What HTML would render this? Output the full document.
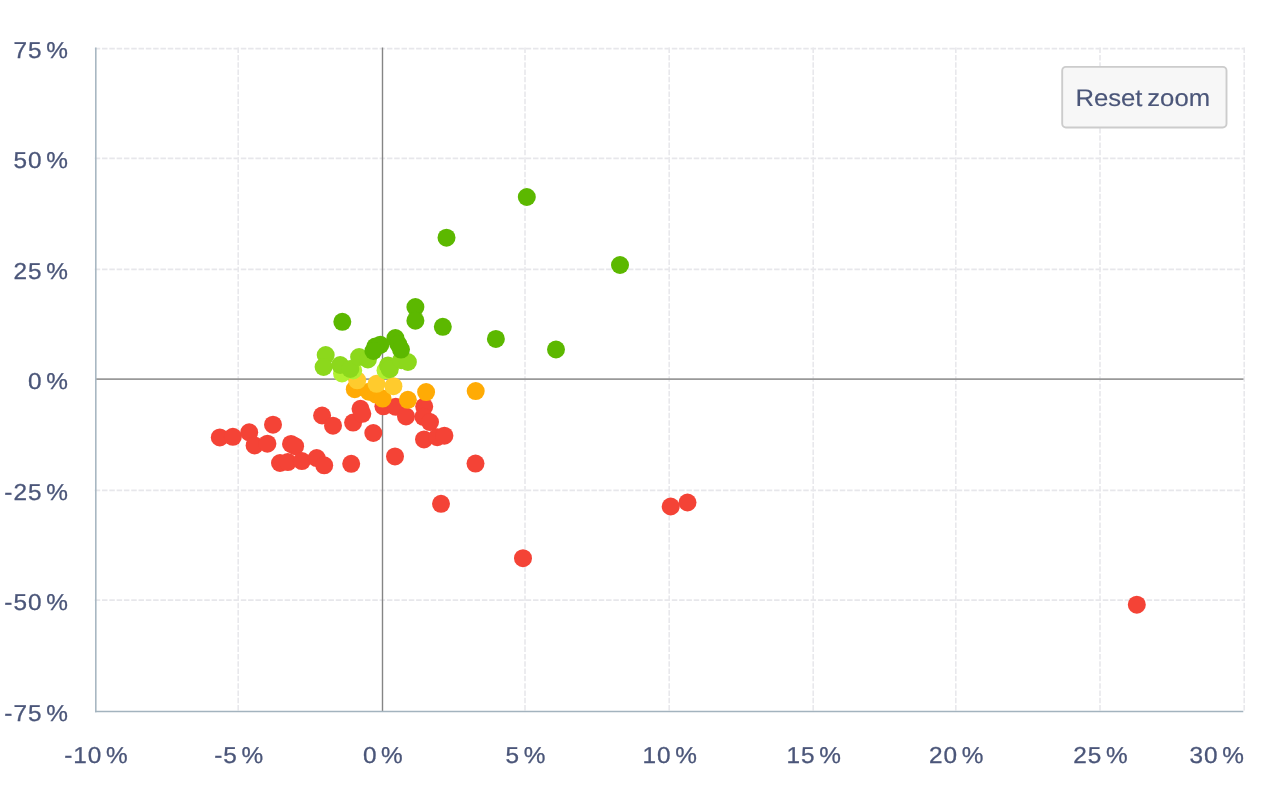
<!DOCTYPE html>
<html lang="en">
<head>
<meta charset="utf-8">
<title>Scatter chart</title>
<style>
html,body{margin:0;padding:0;background:#ffffff;}
body{width:1280px;height:789px;overflow:hidden;}
svg{display:block;will-change:transform;}
text{text-rendering:geometricPrecision;font-family:"Liberation Sans",Arial,Helvetica,sans-serif;fill:#4b5679;stroke:#4b5679;stroke-width:0.28px;}
.lbl{font-size:23px;letter-spacing:0.9px;word-spacing:-3.8px;}
.btn{font-size:24px;word-spacing:-2.2px;stroke-width:0.15px;}
</style>
</head>
<body>
<svg width="1280" height="789" viewBox="0 0 1280 789">
<rect x="0" y="0" width="1280" height="789" fill="#ffffff"/>

<g stroke="#e7e7eb" stroke-width="1.75" stroke-dasharray="5.5 1.805" fill="none">
<path d="M94.7 48.5 H1245"/>
<path d="M94.7 158.4 H1245"/>
<path d="M94.7 269.3 H1245"/>
<path d="M94.7 490.3 H1245"/>
<path d="M94.7 600.2 H1245"/>
</g>
<g stroke="#e8e8ec" stroke-width="1.6" stroke-dasharray="5.5 1.805" fill="none">
<path d="M238.2 47.6 V711"/>
<path d="M525.0 47.6 V711"/>
<path d="M669.2 47.6 V711"/>
<path d="M813.2 47.6 V711"/>
<path d="M955.8 47.6 V711"/>
<path d="M1100.0 47.6 V711"/>
<path d="M1244.2 47.6 V711"/>
</g>
<path d="M95 379.05 H1243.5" stroke="#999999" stroke-width="1.7" fill="none"/>
<path d="M382.5 47.6 V711" stroke="#858585" stroke-width="1.4" fill="none"/>
<path d="M95.8 47.6 V712.2" stroke="#a8b7c2" stroke-width="1.6" fill="none"/>
<path d="M95 711.45 H1243.3" stroke="#a3b3be" stroke-width="1.6" fill="none"/>
<g fill="#f44336">
<circle cx="219.8" cy="437.4" r="9"/>
<circle cx="232.9" cy="436.8" r="9"/>
<circle cx="249.2" cy="432.3" r="9"/>
<circle cx="254.6" cy="445.4" r="9"/>
<circle cx="267.4" cy="443.7" r="9"/>
<circle cx="273.0" cy="424.7" r="9"/>
<circle cx="291.0" cy="443.9" r="9"/>
<circle cx="295.1" cy="446.2" r="9"/>
<circle cx="280.0" cy="463.0" r="9"/>
<circle cx="287.8" cy="462.1" r="9"/>
<circle cx="301.9" cy="461.1" r="9"/>
<circle cx="316.7" cy="458.1" r="9"/>
<circle cx="324.2" cy="465.3" r="9"/>
<circle cx="322.1" cy="415.5" r="9"/>
<circle cx="333.0" cy="425.7" r="9"/>
<circle cx="351.2" cy="463.8" r="9"/>
<circle cx="353.1" cy="422.6" r="9"/>
<circle cx="360.5" cy="408.8" r="9"/>
<circle cx="362.3" cy="413.8" r="9"/>
<circle cx="373.3" cy="433.0" r="9"/>
<circle cx="383.4" cy="406.3" r="9"/>
<circle cx="395.0" cy="456.4" r="9"/>
<circle cx="395.8" cy="406.8" r="9"/>
<circle cx="406.0" cy="416.4" r="9"/>
<circle cx="424.2" cy="406.6" r="9"/>
<circle cx="423.4" cy="416.8" r="9"/>
<circle cx="430.0" cy="422.1" r="9"/>
<circle cx="424.0" cy="439.4" r="9"/>
<circle cx="437.2" cy="437.2" r="9"/>
<circle cx="444.4" cy="435.7" r="9"/>
<circle cx="441.0" cy="503.8" r="9"/>
<circle cx="475.5" cy="463.6" r="9"/>
<circle cx="523.0" cy="558.2" r="9"/>
<circle cx="670.7" cy="506.5" r="9"/>
<circle cx="687.5" cy="502.5" r="9"/>
<circle cx="1136.8" cy="604.7" r="9"/>
</g>
<g fill="#ffab05">
<circle cx="354.8" cy="389.2" r="9"/>
<circle cx="368.8" cy="391.7" r="9"/>
<circle cx="376.2" cy="394.6" r="9"/>
<circle cx="382.6" cy="398.6" r="9"/>
<circle cx="407.9" cy="399.8" r="9"/>
<circle cx="426.1" cy="392.1" r="9"/>
<circle cx="475.7" cy="391.1" r="9"/>
</g>
<g fill="#ffcb2d">
<circle cx="357.2" cy="380.3" r="9"/>
<circle cx="376.5" cy="383.8" r="9"/>
<circle cx="393.4" cy="386.2" r="9"/>
</g>
<g fill="#b0f030">
<circle cx="342.0" cy="373.4" r="9"/>
<circle cx="353.2" cy="370.5" r="9"/>
<circle cx="385.5" cy="370.3" r="9"/>
</g>
<g fill="#8cd81c">
<circle cx="325.7" cy="355.1" r="9"/>
<circle cx="323.6" cy="367.0" r="9"/>
<circle cx="340.2" cy="365.0" r="9"/>
<circle cx="350.3" cy="369.0" r="9"/>
<circle cx="359.1" cy="357.0" r="9"/>
<circle cx="367.9" cy="359.5" r="9"/>
<circle cx="388.0" cy="365.6" r="9"/>
<circle cx="389.8" cy="369.2" r="9"/>
<circle cx="401.3" cy="360.2" r="9"/>
<circle cx="407.9" cy="362.0" r="9"/>
</g>
<g fill="#5cb800">
<circle cx="342.3" cy="321.8" r="9"/>
<circle cx="415.4" cy="307.1" r="9"/>
<circle cx="415.4" cy="320.7" r="9"/>
<circle cx="442.8" cy="326.8" r="9"/>
<circle cx="395.4" cy="338.0" r="9"/>
<circle cx="398.2" cy="344.0" r="9"/>
<circle cx="401.0" cy="349.6" r="9"/>
<circle cx="380.3" cy="344.8" r="9"/>
<circle cx="375.3" cy="346.5" r="9"/>
<circle cx="373.4" cy="351.0" r="9"/>
<circle cx="526.8" cy="197.0" r="9"/>
<circle cx="446.5" cy="237.7" r="9"/>
<circle cx="620.0" cy="265.0" r="9"/>
<circle cx="495.9" cy="338.9" r="9"/>
<circle cx="556.0" cy="349.5" r="9"/>
</g>
<g class="lbl" text-anchor="end">
<text transform="translate(68.8 58.2) scale(1.06 1)">75 %</text>
<text transform="translate(68.8 168.1) scale(1.06 1)">50 %</text>
<text transform="translate(68.8 279.0) scale(1.06 1)">25 %</text>
<text transform="translate(68.8 388.9) scale(1.06 1)">0 %</text>
<text transform="translate(68.8 500.0) scale(1.06 1)">-25 %</text>
<text transform="translate(68.8 609.9) scale(1.06 1)">-50 %</text>
<text transform="translate(68.8 720.7) scale(1.06 1)">-75 %</text>
</g>
<g class="lbl" text-anchor="middle">
<text transform="translate(96.4 763.2) scale(1.06 1)">-10 %</text>
<text transform="translate(239.1 763.2) scale(1.06 1)">-5 %</text>
<text transform="translate(383.3 763.2) scale(1.06 1)">0 %</text>
<text transform="translate(525.9 763.2) scale(1.06 1)">5 %</text>
<text transform="translate(670.1 763.2) scale(1.06 1)">10 %</text>
<text transform="translate(814.1 763.2) scale(1.06 1)">15 %</text>
<text transform="translate(956.7 763.2) scale(1.06 1)">20 %</text>
<text transform="translate(1100.9 763.2) scale(1.06 1)">25 %</text>
<text transform="translate(1244.8 763.2) scale(1.06 1)" text-anchor="end">30 %</text>
</g>
<rect x="1062.2" y="66.9" width="164.3" height="60.6" rx="3.7" ry="3.7" fill="#f7f7f7" stroke="#cccccc" stroke-width="1.9"/>
<text class="btn" transform="translate(1075.4 106) scale(1.07 1)">Reset zoom</text>
</svg>
</body>
</html>
